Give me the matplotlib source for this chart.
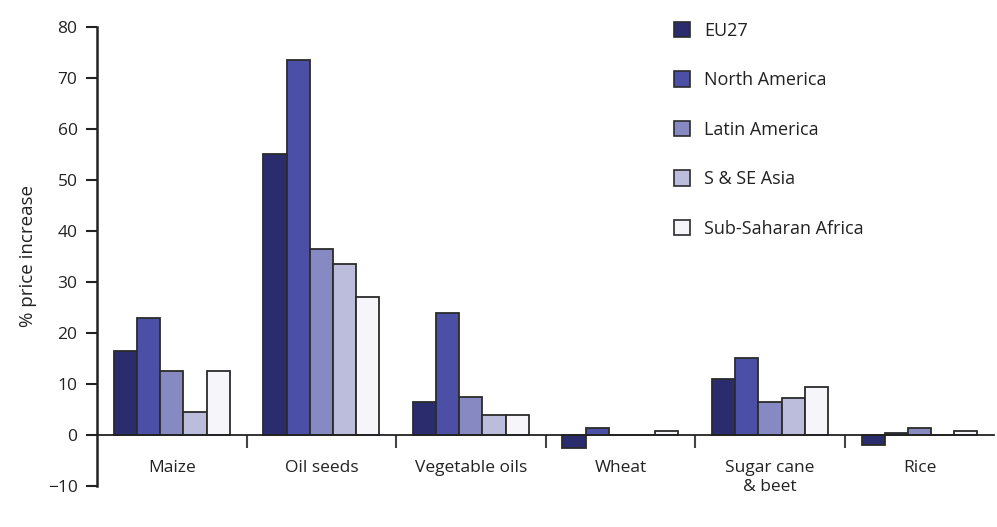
import numpy as np
import matplotlib.pyplot as plt
from matplotlib.patches import Patch
from matplotlib.ticker import FixedLocator

plt.rcParams['font.family'] = ['Open Sans', 'DejaVu Sans']

categories = ['Maize', 'Oil seeds', 'Vegetable oils', 'Wheat', 'Sugar cane\n& beet', 'Rice']
regions = ['EU27', 'North America', 'Latin America', 'S & SE Asia', 'Sub-Saharan Africa']

eu27 = [16.5, 55.0, 6.5, -2.5, 11.0, -2.0]
north_america = [23.0, 73.5, 24.0, 1.3, 15.0, 0.3]
latin_america = [12.5, 36.5, 7.5, 0.0, 6.5, 1.3]
s_se_asia = [4.5, 33.5, 4.0, 0.0, 7.3, 0.0]
ss_africa = [12.5, 27.0, 4.0, 0.8, 9.5, 0.8]

series = [eu27, north_america, latin_america, s_se_asia, ss_africa]
colors = ['#2a2c6e', '#4b50a6', '#8789c2', '#bcbddd', '#f6f6fa']

fig = plt.figure(figsize=(9.97, 5.27), dpi=100)
ax = fig.add_axes([0.0973, 0.0778, 0.9, 0.871])

x = np.arange(len(categories))
w = 0.155
for i, (vals, c) in enumerate(zip(series, colors)):
    ax.bar(x + (i - 2) * w, vals, width=w, color=c, edgecolor='#2b2b2b',
           linewidth=1.3, label=regions[i], zorder=2)

ax.set_xlim(-0.5, 5.5)
ax.set_ylim(-10, 80)

for s in ['top', 'right']:
    ax.spines[s].set_visible(False)
ax.spines['bottom'].set_position(('data', 0))
ax.spines['bottom'].set_color('#222222')
ax.spines['bottom'].set_linewidth(1.3)
ax.spines['bottom'].set_zorder(3)
ax.spines['left'].set_color('#222222')
ax.spines['left'].set_linewidth(1.8)

ax.set_yticks(np.arange(-10, 81, 10))
ax.tick_params(axis='y', direction='out', length=8, width=1.5, color='#222222',
               labelsize=12.5, pad=6, labelcolor='#222222')

ax.set_xticks(x)
ax.set_xticklabels(categories)
ax.xaxis.set_minor_locator(FixedLocator(x[:-1] + 0.5))
ax.tick_params(axis='x', which='major', length=0, pad=18, labelsize=12.5,
               labelcolor='#222222')
ax.tick_params(axis='x', which='minor', direction='out', length=9, width=1.5,
               color='#444444')
for lab in ax.get_xticklabels():
    lab.set_verticalalignment('top')
    lab.set_linespacing(1.25)

ax.set_ylabel('% price increase', fontsize=13.5, color='#222222', labelpad=8)

handles = [Patch(facecolor=c, edgecolor='#2b2b2b', linewidth=1.2) for c in colors]
fig.legend(handles, regions, loc='upper left', bbox_to_anchor=(0.66, 0.99),
           frameon=False, fontsize=13, labelspacing=1.75, handlelength=0.85,
           handleheight=0.95, handletextpad=0.8, labelcolor='#222222')

fig.savefig('out.png', dpi=100)
